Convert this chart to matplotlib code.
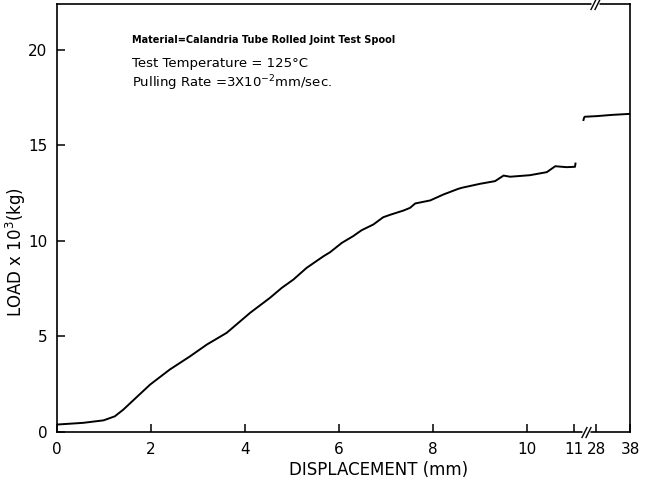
import numpy as np
import matplotlib
matplotlib.use("Agg")
import matplotlib.pyplot as plt
import matplotlib.transforms as mtransforms
from matplotlib.path import Path

# load-displacement record, first part (0-11 mm)
disp1 = [0.0, 0.56, 0.99, 1.23, 1.41, 1.98, 2.40, 2.83, 3.19, 3.61, 4.11, 4.53,
         4.78, 5.03, 5.31, 5.67, 5.81, 6.06, 6.30, 6.48, 6.73, 6.94, 7.09, 7.37,
         7.51, 7.62, 7.94, 8.22, 8.54, 8.61, 9.00, 9.32, 9.50, 9.64, 10.06, 10.42,
         10.60, 10.84, 11.02, 11.03]
load1 = [0.39, 0.48, 0.61, 0.82, 1.17, 2.48, 3.27, 3.96, 4.58, 5.19, 6.24, 7.02,
         7.54, 7.98, 8.59, 9.20, 9.41, 9.90, 10.25, 10.56, 10.86, 11.24, 11.37, 11.59,
         11.73, 11.96, 12.12, 12.43, 12.73, 12.78, 12.99, 13.13, 13.42, 13.36, 13.44, 13.60,
         13.91, 13.86, 13.88, 14.05]

# second part, after the axis break (up to 38 mm)
disp2 = [26.0, 26.1, 26.2, 28.0, 33.0, 38.0]
load2 = [16.33, 16.45, 16.50, 16.53, 16.60, 16.65]

xticks = [0, 2, 4, 6, 8, 10, 11, 28, 38]
yticks = [0, 5, 10, 15, 20]

# piecewise mapping for the broken x axis
xs_map = [0, 11.15, 26, 28, 38]
us_map = [0, 11.15, 11.2, 11.47, 12.19]

def fwd(x):
    return np.interp(x, xs_map, us_map)

def inv(u):
    return np.interp(u, us_map, xs_map)

fig = plt.figure(figsize=(6.48, 4.83), dpi=100)
ax = fig.add_axes([57/648, 1-432/483, 573/648, 428/483])
ax.set_xscale('function', functions=(fwd, inv))
ax.set_xlim(0, 38)
ax.set_ylim(0, 22.4)

ax.plot(disp1, load1, color='black', lw=1.4)
ax.plot(disp2, load2, color='black', lw=1.4)

ax.set_xticks(xticks)
ax.set_xticklabels([str(t) for t in xticks])
ax.set_yticks(yticks)
ax.set_yticklabels([str(t) for t in yticks])
ax.tick_params(direction='in', length=6, width=1.1, labelsize=11, pad=7)
for s in ax.spines.values():
    s.set_linewidth(1.2)

ax.set_xlabel('DISPLACEMENT (mm)', fontsize=12)
ax.set_ylabel(r'LOAD x 10$^3$(kg)', fontsize=12)
ax.xaxis.set_label_coords(0.562, -0.068)
ax.yaxis.set_label_coords(-0.05, 0.42)

# axis break marks
trans = mtransforms.blended_transform_factory(ax.transData, ax.transAxes)
slash = Path([(-0.5, -1.0), (0.5, 1.0)], [Path.MOVETO, Path.LINETO])
for xb, yb in [(26.41, 0), (27.83, 1)]:
    ax.plot([xb], [yb], transform=trans, marker='s', ms=6, color='white',
            mec='none', linestyle='none', clip_on=False, zorder=3)
    ax.plot([xb - 0.31, xb + 0.31], [yb, yb], transform=trans, marker=slash,
            ms=8, mew=1.0, color='black', linestyle='none', clip_on=False, zorder=4)

# test conditions
fam = ['Liberation Sans Narrow', 'DejaVu Sans']
fig.text(132/648, 1-40/483, 'Material=Calandria Tube Rolled Joint Test Spool',
         fontsize=7, family=fam, weight='bold', va='center')
fig.text(132/648, 1-63/483, 'Test Temperature = 125°C',
         fontsize=9.5, family=fam, va='center')
fig.text(132/648, 1-83/483, r'Pulling Rate =3X10$^{-2}$mm/sec.',
         fontsize=9.5, family=fam, va='center')

fig.savefig('out.png', dpi=100)
